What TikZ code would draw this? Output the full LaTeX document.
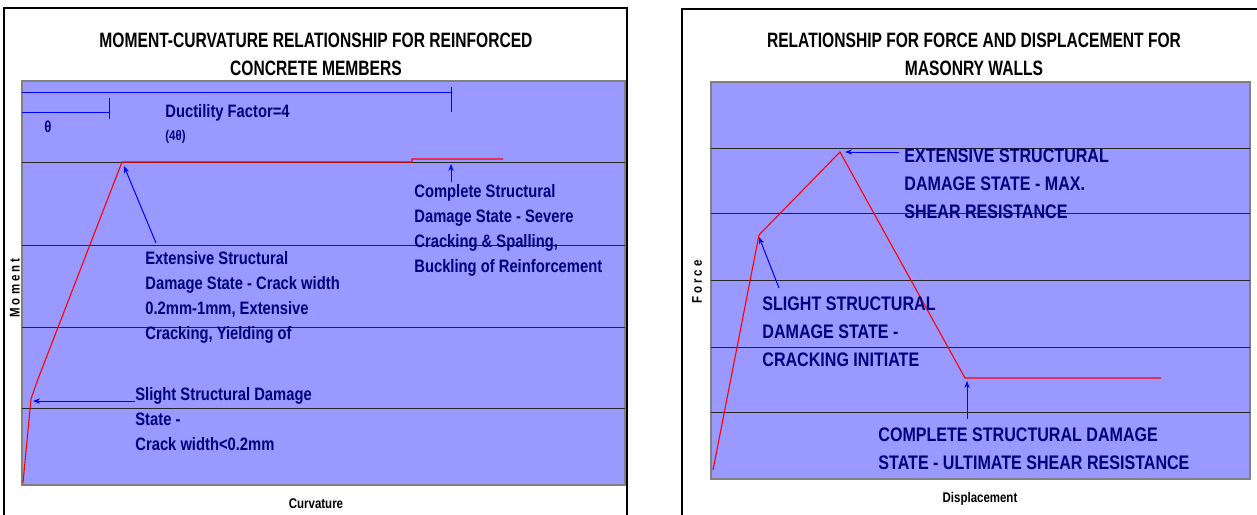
\documentclass[tikz,border=0pt]{standalone}
\usepackage{fontspec}
\setmainfont[FakeStretch=0.82]{Liberation Sans}
\newfontfamily\headfont[FakeStretch=0.75]{Liberation Sans}
\usetikzlibrary{arrows.meta}
\definecolor{plotbg}{RGB}{153,153,255}
\definecolor{navy}{RGB}{0,0,128}

\begin{document}
\begin{tikzpicture}[x=0.5pt,y=-0.5pt,>={Stealth[length=3.5pt,width=2.6pt]},
  frame/.style={draw=black,line width=0.6pt},
  plotarea/.style={fill=plotbg,draw=gray,line width=0.6pt},
  gridline/.style={draw=black!85,line width=0.5pt},
  curve/.style={draw=red,line width=0.55pt},
  pointer/.style={draw=blue,line width=0.5pt,->},
  dimline/.style={draw=blue,line width=0.5pt},
  title/.style={align=center,inner sep=0pt,font=\headfont\fontsize{10.4}{14}\selectfont\bfseries},
  axis/.style={inner sep=0pt,font=\fontsize{7}{8}\selectfont\bfseries},
  note/.style={anchor=north west,align=left,inner sep=0pt,text=navy,font=\fontsize{9}{12.5}\selectfont\bfseries},
  capsnote/.style={note,font=\fontsize{9.8}{14}\selectfont\bfseries}]
\useasboundingbox (0,0) rectangle (1257,514);
\clip (0,0) rectangle (1257,514);

\draw[frame] (4,8) rectangle (627,530);
\node[title] (ttlM) at (316,54) {MOMENT-CURVATURE RELATIONSHIP FOR REINFORCED\\CONCRETE MEMBERS};
\draw[plotarea] (22,81) rectangle (625,485);
\foreach \y in {162,245,327,408} \draw[gridline] (22,\y) -- (625,\y);
\draw[dimline] (22,92) -- (451,92); \draw[dimline] (451,87) -- (451,112);
\draw[dimline] (22,112) -- (109,112); \draw[dimline] (109,98) -- (109,119);
\node[note,anchor=center,font=\fontsize{8}{9}\selectfont\bfseries] (thta) at (48,127) {θ};
\node[note,anchor=west] (duct) at (165,113) {Ductility Factor=4};
\node[note,anchor=west,font=\fontsize{7}{8}\selectfont\bfseries] (four) at (165,137) {(4θ)};
\coordinate (mA) at (23,483); \coordinate (mB) at (31,399); \coordinate (mC) at (38,379);
\coordinate (mY) at (122,162); \coordinate (mS) at (412,162); \coordinate (mT) at (412,159);
\coordinate (mU) at (503,159);
\draw[curve] (mA) -- (mB) -- (mC) -- (mY) -- (mS) -- (mT) -- (mU);
\node[note] (compM) at (414,184) {Complete Structural\\Damage State - Severe\\Cracking \& Spalling,\\Buckling of Reinforcement};
\node[note] (extM) at (145,251) {Extensive Structural\\Damage State - Crack width\\0.2mm-1mm, Extensive\\Cracking, Yielding of};
\node[note] (sliM) at (135,387) {Slight Structural Damage\\State -\\Crack width<0.2mm};
\coordinate (compMa) at (451,182); \coordinate (compMb) at (451,164);
\coordinate (extMa) at (156,243); \coordinate (extMb) at (124,166);
\coordinate (sliMa) at (135,401); \coordinate (sliMb) at (33,401);
\draw[pointer] (compMa) -- (compMb);
\draw[pointer] (extMa) -- (extMb);
\draw[pointer] (sliMa) -- (sliMb);
\node[axis,rotate=90] (ylM) at (15,288) {\addfontfeature{LetterSpace=22}Moment};
\node[axis] (xlM) at (316,504) {Curvature};

\draw[frame] (682,9) rectangle (1275,530);
\node[title] (ttlF) at (974,54) {RELATIONSHIP FOR FORCE AND DISPLACEMENT FOR\\MASONRY WALLS};
\draw[plotarea] (711,82) rectangle (1250,479);
\foreach \y in {148,213,280,347,412} \draw[gridline] (711,\y) -- (1250,\y);
\coordinate (fA) at (713,470); \coordinate (fB) at (759,235); \coordinate (fC) at (840,152);
\coordinate (fD) at (965,378); \coordinate (fE) at (1161,378);
\draw[curve] (fA) -- (fB) -- (fC) -- (fD) -- (fE);
\node[capsnote] (extF) at (904,148) {EXTENSIVE STRUCTURAL\\DAMAGE STATE - MAX.\\SHEAR RESISTANCE};
\node[capsnote] (sliF) at (762,296) {SLIGHT STRUCTURAL\\DAMAGE STATE -\\CRACKING INITIATE};
\node[capsnote] (compF) at (878,427) {COMPLETE STRUCTURAL DAMAGE\\STATE - ULTIMATE SHEAR RESISTANCE};
\coordinate (extFa) at (899,152); \coordinate (extFb) at (845,152);
\coordinate (sliFa) at (779,288); \coordinate (sliFb) at (759,237);
\coordinate (compFa) at (967,419); \coordinate (compFb) at (967,381);
\draw[pointer] (extFa) -- (extFb);
\draw[pointer] (sliFa) -- (sliFb);
\draw[pointer] (compFa) -- (compFb);
\node[axis,rotate=90] (ylF) at (697,282) {\addfontfeature{LetterSpace=22}Force};
\node[axis] (xlF) at (980,499) {Displacement};
\end{tikzpicture}
\end{document}
